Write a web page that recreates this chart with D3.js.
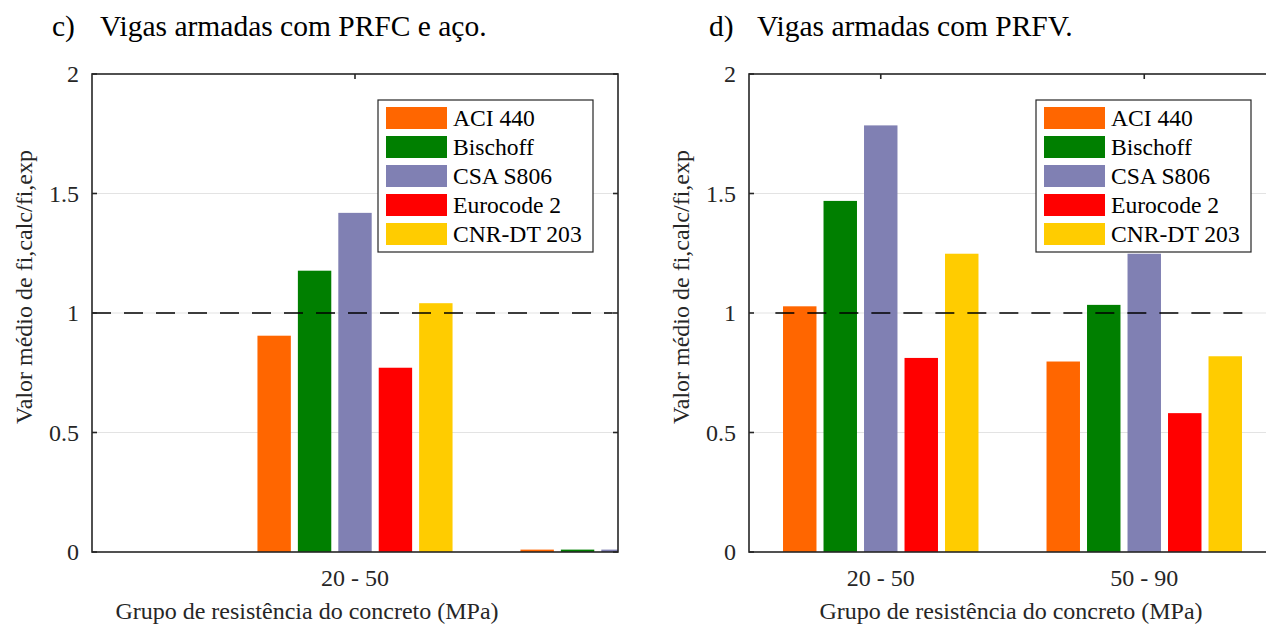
<!DOCTYPE html>
<html>
<head>
<meta charset="utf-8">
<script src="https://cdn.jsdelivr.net/npm/d3@7/dist/d3.min.js"></script>
<style>
  body { margin: 0; background: #fff; }
</style>
</head>
<body>
<div id="chart"></div>
<script>

// legend entries and their fills
const seriesNames = ["ACI 440", "Bischoff", "CSA S806", "Eurocode 2", "CNR-DT 203"];
const seriesColors = ["#FF6600", "#007F00", "#8080B3", "#FF0000", "#FFCC00"];

// concrete strength groups (MPa)
const groups = ["20 - 50", "50 - 90"];

// mean of fi,calc / fi,exp per group, one value per series
const valuesPrfcSteel = [
    [0.905, 1.177, 1.419, 0.771, 1.041],
    [0.01, 0.01, 0.01, 0.01, 0.01]
];
const valuesPrfv = [
    [1.028, 1.469, 1.785, 0.812, 1.248],
    [0.797, 1.034, 1.248, 0.581, 0.819]
];

const yTicks = [0, 0.5, 1, 1.5, 2];
const referenceLine = 1;

const props = {
    width: 1266,
    height: 628,
    top: 74,
    bottom: 552,
    barStep: 0.1537,
    barWidth: 0.127,
    font: "'Liberation Serif', 'Times New Roman', Tinos, 'DejaVu Serif', serif",
    axis: {stroke: "#262626", strokeWidth: 1.6, tickSize: 5},
    grid: {stroke: "#e3e3e3", strokeWidth: 1},
    dash: {stroke: "#000", strokeWidth: 1.6, dasharray: "19,13"},
    tickFont: 24,
    labelFont: 24,
    titleFont: 29.5,
    legendFont: 23.6
};

const panels = [
    {
        letter: "c)", title: "Vigas armadas com PRFC e aço.",
        left: 92, right: 618, xDomain: [0, 2],
        values: valuesPrfcSteel, tickLabels: ["20 - 50"],
        dashExtent: [0, 1.98], legendX: 378, xLabelX: 307
    },
    {
        letter: "d)", title: "Vigas armadas com PRFV.",
        left: 749, right: 1276, xDomain: [0.5, 2.5],
        values: valuesPrfv, tickLabels: groups,
        dashExtent: [0.6, 2.4], legendX: 1036, xLabelX: 1011
    }
];

const svg = d3.select("#chart").append("svg")
    .attr("width", props.width)
    .attr("height", props.height)
    .attr("font-family", props.font)
    .style("display", "block");

const drawPanel = (panel, idx) => {
    const g = svg.append("g").attr("class", "panel");

    const x = d3.scaleLinear().domain(panel.xDomain).range([panel.left, panel.right]);
    const y = d3.scaleLinear().domain([0, 2]).range([props.bottom, props.top]);

    const clipId = `clip${idx}`;
    g.append("clipPath").attr("id", clipId)
        .append("rect")
        .attr("x", panel.left).attr("y", props.top)
        .attr("width", panel.right - panel.left)
        .attr("height", props.bottom - props.top);

    // horizontal grid
    g.append("g")
        .selectAll("line")
        .data(yTicks.filter((t) => t > 0 && t < 2))
        .join("line")
        .attr("x1", panel.left).attr("x2", panel.right)
        .attr("y1", (d) => y(d)).attr("y2", (d) => y(d))
        .attr("stroke", props.grid.stroke)
        .attr("stroke-width", props.grid.strokeWidth);

    // bars
    const barGroups = g.append("g").attr("clip-path", `url(#${clipId})`)
        .selectAll(".barGroup")
        .data(panel.values.map((vals, gi) => ({pos: gi + 1, vals})))
        .join("g").attr("class", "barGroup");

    barGroups.selectAll("rect")
        .data((d) => d.vals.map((v, si) => ({pos: d.pos, v, si})))
        .join("rect")
        .attr("x", (d) => x(d.pos + (d.si - 2) * props.barStep - props.barWidth / 2))
        .attr("width", (d) => x(d.pos + props.barWidth / 2) - x(d.pos - props.barWidth / 2))
        .attr("y", (d) => y(d.v))
        .attr("height", (d) => y(0) - y(d.v))
        .attr("fill", (d) => seriesColors[d.si]);

    // reference line at 1
    g.append("line")
        .attr("clip-path", `url(#${clipId})`)
        .attr("x1", x(panel.dashExtent[0])).attr("x2", x(panel.dashExtent[1]))
        .attr("y1", y(referenceLine)).attr("y2", y(referenceLine))
        .attr("stroke", props.dash.stroke)
        .attr("stroke-width", props.dash.strokeWidth)
        .attr("stroke-dasharray", props.dash.dasharray);

    // axes box + inward ticks
    const axisG = g.append("g");
    axisG.append("rect")
        .attr("x", panel.left).attr("y", props.top)
        .attr("width", panel.right - panel.left)
        .attr("height", props.bottom - props.top)
        .attr("fill", "none")
        .attr("stroke", props.axis.stroke)
        .attr("stroke-width", props.axis.strokeWidth);

    const ts = props.axis.tickSize;
    yTicks.forEach((t) => {
        axisG.append("line")
            .attr("x1", panel.left).attr("x2", panel.left + ts)
            .attr("y1", y(t)).attr("y2", y(t))
            .attr("stroke", props.axis.stroke).attr("stroke-width", props.axis.strokeWidth);
        axisG.append("line")
            .attr("x1", panel.right).attr("x2", panel.right - ts)
            .attr("y1", y(t)).attr("y2", y(t))
            .attr("stroke", props.axis.stroke).attr("stroke-width", props.axis.strokeWidth);
    });

    panel.tickLabels.forEach((_, i) => {
        axisG.append("line")
            .attr("x1", x(i + 1)).attr("x2", x(i + 1))
            .attr("y1", props.top).attr("y2", props.top + ts)
            .attr("stroke", props.axis.stroke).attr("stroke-width", props.axis.strokeWidth);
    });

    // y tick labels
    g.append("g")
        .selectAll("text")
        .data(yTicks)
        .join("text")
        .attr("x", panel.left - 13)
        .attr("y", (d) => y(d) + 8)
        .attr("text-anchor", "end")
        .attr("font-size", props.tickFont)
        .attr("fill", "#262626")
        .text((d) => d3.format("~g")(d));

    // x tick labels
    g.append("g")
        .selectAll("text")
        .data(panel.tickLabels)
        .join("text")
        .attr("x", (d, i) => x(i + 1))
        .attr("y", 586)
        .attr("text-anchor", "middle")
        .attr("font-size", props.tickFont)
        .attr("fill", "#262626")
        .text((d) => d);

    // axis labels
    g.append("text")
        .attr("x", panel.xLabelX)
        .attr("y", 619)
        .attr("text-anchor", "middle")
        .attr("font-size", props.labelFont)
        .attr("fill", "#262626")
        .text("Grupo de resistência do concreto (MPa)");

    g.append("text")
        .attr("transform", `translate(${panel.left - 60},287) rotate(-90)`)
        .attr("text-anchor", "middle")
        .attr("font-size", props.labelFont)
        .attr("fill", "#262626")
        .text("Valor médio de fi,calc/fi,exp");

    // title
    g.append("text")
        .attr("x", panel.left - 40).attr("y", 36)
        .attr("font-size", props.titleFont)
        .attr("fill", "#000")
        .text(panel.letter);
    g.append("text")
        .attr("x", panel.left + 8).attr("y", 36)
        .attr("font-size", props.titleFont)
        .attr("fill", "#000")
        .text(panel.title);

    // legend
    const legend = g.append("g").attr("transform", `translate(${panel.legendX},100)`);
    legend.append("rect")
        .attr("width", 215).attr("height", 152)
        .attr("fill", "#fff")
        .attr("stroke", props.axis.stroke)
        .attr("stroke-width", 1.2);

    const items = legend.selectAll(".legendItem")
        .data(seriesNames)
        .join("g")
        .attr("class", "legendItem")
        .attr("transform", (d, i) => `translate(8,${7 + i * 29})`);
    items.append("rect")
        .attr("width", 61).attr("height", 22)
        .attr("fill", (d, i) => seriesColors[i]);
    items.append("text")
        .attr("x", 67).attr("y", 19)
        .attr("font-size", props.legendFont)
        .attr("fill", "#000")
        .text((d) => d);
};

panels.forEach(drawPanel);

</script>
</body>
</html>
